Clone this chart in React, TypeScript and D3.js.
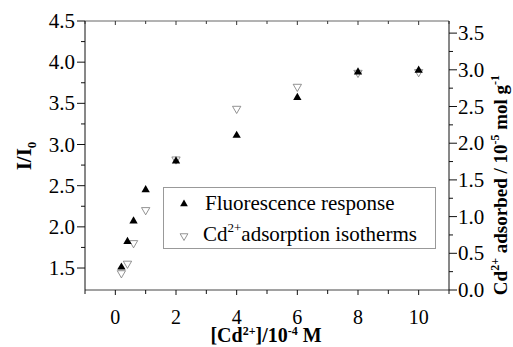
import * as d3 from "d3";

const W = 513;
const H = 347;
const PLOT = { left: 85, right: 449, top: 21, bottom: 290 };
const SERIF = "Times New Roman";

// concentration of Cd2+ (10^-4 M)
const conc = [0.2, 0.4, 0.6, 1, 2, 4, 6, 8, 10];
// I/I0, left axis
const fluorescence = [1.51, 1.82, 2.07, 2.45, 2.8, 3.11, 3.57, 3.88, 3.9];
// Cd2+ adsorbed / 10^-5 mol g^-1, right axis
const adsorption = [0.23, 0.36, 0.64, 1.09, 1.78, 2.47, 2.77, 2.96, 2.97];

const xTickLabels = [0, 2, 4, 6, 8, 10];
const xMinorTicks = [-1, 1, 3, 5, 7, 9, 11];
const leftTicks = [1.5, 2.0, 2.5, 3.0, 3.5, 4.0, 4.5];
const rightTicks = [0, 0.5, 1.0, 1.5, 2.0, 2.5, 3.0, 3.5];

const legendLabels = ["Fluorescence response", "adsorption isotherms"];

const T = (props: any) => (
  <text {...props} fontFamily={SERIF} style={{ fontFamily: SERIF, fontSize: props.fontSize + "px" }}>
    {props.children}
  </text>
);

export default function App() {
  const x = d3.scaleLinear().domain([-1, 11]).range([PLOT.left, PLOT.right]);
  const yL = d3.scaleLinear().domain([1.233, 4.5]).range([PLOT.bottom, PLOT.top]);
  const yR = d3.scaleLinear().domain([0, 3.665]).range([PLOT.bottom, PLOT.top]);

  const tri = d3.symbol().type(d3.symbolTriangle).size(30)();
  const triSmall = d3.symbol().type(d3.symbolTriangle).size(26)();

  const leftMinor = leftTicks.slice(0, -1).map((t) => t + 0.25);
  const rightMinor = rightTicks.slice(0, -1).map((t) => t + 0.25);

  return (
    <div style={{ position: "fixed", left: 0, top: 0 }}>
      <svg width={W} height={H} style={{ display: "block", background: "#fff" }}>
        {/* frame */}
        <line x1={PLOT.left} x2={PLOT.right} y1={PLOT.top} y2={PLOT.top} stroke="#666" />
        <line x1={PLOT.left} x2={PLOT.right} y1={PLOT.bottom} y2={PLOT.bottom} stroke="#444" />
        <line x1={PLOT.left} x2={PLOT.left} y1={PLOT.top} y2={PLOT.bottom} stroke="#111" />
        <line x1={PLOT.right} x2={PLOT.right} y1={PLOT.top} y2={PLOT.bottom} stroke="#111" />

        {/* bottom + top ticks */}
        {[...xTickLabels, ...xMinorTicks].map((t) => {
          const major = xTickLabels.includes(t);
          return (
            <g key={"x" + t}>
              <line x1={x(t)} x2={x(t)} y1={PLOT.bottom} y2={PLOT.bottom + (major ? 5 : 4)} stroke="#111" />
              <line x1={x(t)} x2={x(t)} y1={PLOT.top} y2={PLOT.top + (major ? 4 : 3)} stroke="#333" />
            </g>
          );
        })}
        {xTickLabels.map((t) => (
          <T key={"xl" + t} x={x(t)} y={324} textAnchor="middle" fontSize={20}>
            {t}
          </T>
        ))}

        {/* left axis */}
        {leftTicks.map((t) => (
          <g key={"l" + t}>
            <line x1={PLOT.left - 8} x2={PLOT.left} y1={yL(t)} y2={yL(t)} stroke="#111" />
            <T x={PLOT.left - 10} y={yL(t) + 7} textAnchor="end" fontSize={21}>
              {t.toFixed(1)}
            </T>
          </g>
        ))}
        {leftMinor.map((t) => (
          <line key={"lm" + t} x1={PLOT.left - 4} x2={PLOT.left} y1={yL(t)} y2={yL(t)} stroke="#111" />
        ))}

        {/* right axis */}
        {rightTicks.map((t) => (
          <g key={"r" + t}>
            <line x1={PLOT.right} x2={PLOT.right + 8} y1={yR(t)} y2={yR(t)} stroke="#111" />
            <T x={PLOT.right + 9} y={yR(t) + 7} textAnchor="start" fontSize={21}>
              {t.toFixed(1)}
            </T>
          </g>
        ))}
        {rightMinor.map((t) => (
          <line key={"rm" + t} x1={PLOT.right} x2={PLOT.right + 4} y1={yR(t)} y2={yR(t)} stroke="#111" />
        ))}

        {/* axis titles */}
        <T transform="translate(31,156) rotate(-90)" textAnchor="middle" fontSize={21} fontWeight="bold">
          I/I<tspan fontSize={13} dy={5}>0</tspan>
        </T>
        <T x={266} y={342} textAnchor="middle" fontSize={20} fontWeight="bold">
          [Cd<tspan fontSize={12} dy={-7}>2+</tspan>
          <tspan dy={7}>]/10</tspan>
          <tspan fontSize={12} dy={-7}>-4</tspan>
          <tspan dy={7}> M</tspan>
        </T>
        <T transform="translate(507,185) rotate(-90)" textAnchor="middle" fontSize={19} fontWeight="bold">
          Cd<tspan fontSize={12} dy={-8}>2+</tspan>
          <tspan dy={8}> adsorbed / 10</tspan>
          <tspan fontSize={12} dy={-8}>-5</tspan>
          <tspan dy={8}> mol g</tspan>
          <tspan fontSize={12} dy={-8}>-1</tspan>
        </T>

        {/* data */}
        {conc.map((c, i) => (
          <path
            key={"a" + c}
            d={tri}
            transform={`translate(${x(c)},${yR(adsorption[i])}) rotate(180)`}
            fill="#fff"
            stroke="#777"
            strokeWidth={0.8}
          />
        ))}
        {conc.map((c, i) => (
          <path key={"f" + c} d={tri} transform={`translate(${x(c)},${yL(fluorescence[i])})`} fill="#000" />
        ))}

        {/* legend */}
        <rect x={163.5} y={187.5} width={272} height={61} fill="#fff" stroke="#999" />
        <path d={triSmall} transform="translate(184,204)" fill="#000" />
        <T x={205} y={210} fontSize={21}>
          {legendLabels[0]}
        </T>
        <path d={triSmall} transform="translate(184,236) rotate(180)" fill="#fff" stroke="#777" strokeWidth={0.8} />
        <T x={203} y={241} fontSize={21}>
          Cd<tspan fontSize={13} dy={-9}>2+</tspan>
          <tspan dy={9}>{legendLabels[1]}</tspan>
        </T>
      </svg>
    </div>
  );
}
